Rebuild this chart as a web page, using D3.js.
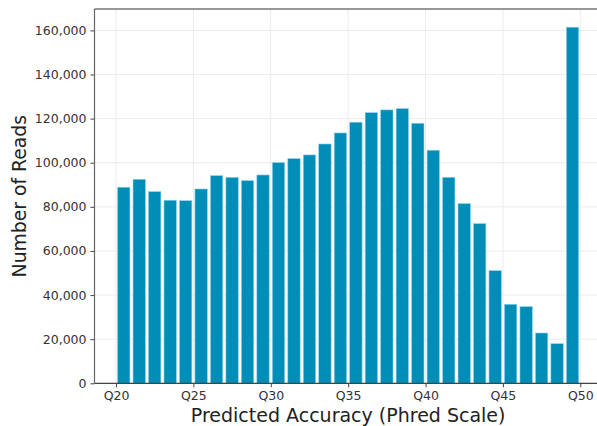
<!DOCTYPE html>
<html>
<head>
<meta charset="utf-8">
<script src="https://cdn.jsdelivr.net/npm/d3@7"></script>
<style>
  html, body { margin: 0; padding: 0; background: #fff; overflow: hidden; }
  svg { display: block; font-family: "DejaVu Sans", sans-serif; }
</style>
</head>
<body>
<svg id="chart" width="597" height="426"></svg>
<script>
// Data: bin start (Phred Q) and number of reads
const qualities = [20,21,22,23,24,25,26,27,28,29,30,31,32,33,34,35,36,37,38,39,40,41,42,43,44,45,46,47,48,49];
const reads = [88900, 92500, 86900, 83000, 82800, 88100, 94150, 93400, 91900, 94450,
               100050, 101900, 103540, 108500, 113500, 118370, 122700, 123950, 124540, 117900,
               105670, 93400, 81450, 72400, 51070, 35830, 34740, 22810, 17960, 161450];
const xTicks = [20, 25, 30, 35, 40, 45, 50];
const xTickLabels = ["Q20", "Q25", "Q30", "Q35", "Q40", "Q45", "Q50"];
const yTicks = [0, 20000, 40000, 60000, 80000, 100000, 120000, 140000, 160000];

const svg = d3.select("#chart");
const mLeft = 94.5, mRight = 601.8, mTop = 9, mBottom = 383.3;

const x = d3.scaleLinear().domain([18.61, 51.39]).range([mLeft, mRight]);
const y = d3.scaleLinear().domain([0, 169700]).range([mBottom, mTop]);

// gridlines
const grid = svg.append("g");
grid.selectAll("line.gy").data(yTicks).enter().append("line")
  .attr("x1", mLeft).attr("x2", mRight)
  .attr("y1", d => y(d)).attr("y2", d => y(d))
  .attr("stroke", "#ebebeb").attr("stroke-width", 1);
grid.selectAll("line.gx").data(xTicks).enter().append("line")
  .attr("x1", d => x(d)).attr("x2", d => x(d))
  .attr("y1", mTop).attr("y2", mBottom)
  .attr("stroke", "#ebebeb").attr("stroke-width", 1);

// bars
const barW = 0.8;
svg.append("g").selectAll("rect").data(qualities).enter().append("rect")
  .attr("x", (d) => x(d + 0.5 - barW / 2))
  .attr("width", (d) => x(d + 0.5 + barW / 2) - x(d + 0.5 - barW / 2))
  .attr("y", (d, i) => y(reads[i]))
  .attr("height", (d, i) => y(0) - y(reads[i]))
  .attr("fill", "#008db8")
  .attr("stroke", "#8fd3ea")
  .attr("stroke-width", 0.6);

// axes
const xAxis = d3.axisBottom(x).tickValues(xTicks)
  .tickFormat((d, i) => xTickLabels[i]).tickSize(4).tickPadding(4);
const gx = svg.append("g").attr("transform", `translate(0,${mBottom})`).call(xAxis);
gx.select(".domain").remove();
gx.selectAll(".tick line").attr("stroke", "#444");
gx.selectAll(".tick text").attr("fill", "#333").attr("font-size", "12.5px")
  .attr("font-family", "DejaVu Sans");

const yAxis = d3.axisLeft(y).tickValues(yTicks)
  .tickFormat(d3.format(",")).tickSize(4).tickPadding(4);
const gy = svg.append("g").attr("transform", `translate(${mLeft},0)`).call(yAxis);
gy.select(".domain").remove();
gy.selectAll(".tick line").attr("stroke", "#444");
gy.selectAll(".tick text").attr("fill", "#333").attr("font-size", "12.5px")
  .attr("font-family", "DejaVu Sans");

// spines
svg.append("line").attr("x1", mLeft).attr("x2", mLeft).attr("y1", mTop).attr("y2", mBottom)
  .attr("stroke", "#666").attr("stroke-width", 1.2);
svg.append("line").attr("x1", mLeft).attr("x2", mRight).attr("y1", mBottom).attr("y2", mBottom)
  .attr("stroke", "#444").attr("stroke-width", 1.2);
svg.append("line").attr("x1", mLeft).attr("x2", mRight).attr("y1", mTop).attr("y2", mTop)
  .attr("stroke", "#333").attr("stroke-width", 1.2);

// axis labels
svg.append("text")
  .attr("x", (mLeft + mRight) / 2).attr("y", 421.5)
  .attr("text-anchor", "middle")
  .attr("font-size", "19px").attr("fill", "#222")
  .text("Predicted Accuracy (Phred Scale)");
svg.append("text")
  .attr("transform", `translate(25.5,${(mTop + mBottom) / 2}) rotate(-90)`)
  .attr("text-anchor", "middle")
  .attr("font-size", "18.8px").attr("fill", "#222")
  .text("Number of Reads");
</script>
</body>
</html>
